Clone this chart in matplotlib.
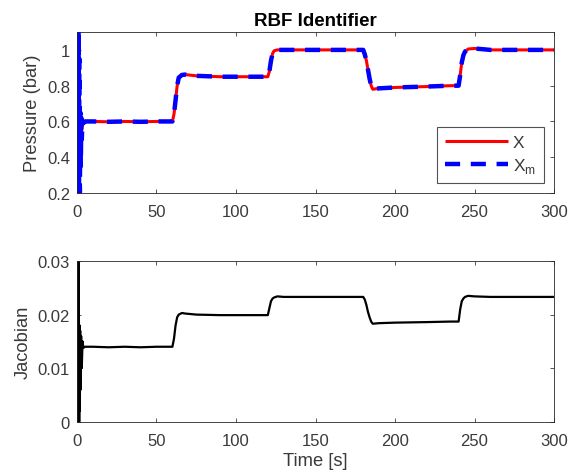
import matplotlib
matplotlib.use("Agg")
import matplotlib.pyplot as plt

plt.rcParams['font.family'] = ['Liberation Sans', 'DejaVu Sans']

# ---- data ----
t_x = [0, 0.5, 1, 1.5, 2, 2.5, 3, 3.5, 4, 5, 10, 20, 30, 40, 50, 55, 60,
       61, 62, 63, 64, 66, 68, 75, 90, 100, 110, 120,
       121, 122, 123, 124, 126, 130, 140, 160, 170, 180,
       181, 182, 183, 184, 185, 186, 190, 200, 220, 235, 240,
       241, 242, 243, 244, 246, 250, 260, 280, 300]
x_vals = [0.2, 0.3, 0.33, 0.38, 0.45, 0.5, 0.55, 0.58, 0.59, 0.6, 0.6, 0.598, 0.6, 0.598, 0.6, 0.6, 0.6,
          0.64, 0.72, 0.8, 0.845, 0.86, 0.862, 0.855, 0.85, 0.85, 0.85, 0.85,
          0.88, 0.94, 0.98, 0.995, 1.0, 1.0, 1.0, 1.0, 1.0, 1.0,
          0.975, 0.94, 0.89, 0.84, 0.80, 0.78, 0.785, 0.79, 0.795, 0.8, 0.8,
          0.86, 0.93, 0.97, 0.99, 1.005, 1.008, 1.0, 1.0, 1.0]

t_xm = [0, 0.15, 0.3, 0.45, 0.6, 0.75, 0.9, 1.05, 1.2, 1.5, 1.8, 2.1, 2.4, 2.7, 3, 3.5, 4, 5,
        10, 20, 30, 40, 50, 55, 60,
        61, 62, 63, 64, 66, 68, 75, 90, 100, 110, 120,
        121, 122, 123, 124, 126, 130, 140, 160, 170, 180,
        181, 182, 183, 184, 185, 186, 190, 200, 220, 235, 240,
        241, 242, 243, 244, 246, 250, 260, 280, 300]
xm_vals = [0.2, 1.1, 0.2, 1.1, 0.2, 1.1, 0.2, 1.1, 0.2, 0.95, 0.2, 0.65, 0.35, 0.62, 0.5, 0.6, 0.59, 0.6,
           0.6, 0.598, 0.6, 0.598, 0.6, 0.6, 0.6,
           0.64, 0.72, 0.8, 0.845, 0.86, 0.862, 0.855, 0.85, 0.85, 0.85, 0.85,
           0.88, 0.94, 0.98, 0.995, 1.0, 1.0, 1.0, 1.0, 1.0, 1.0,
           0.975, 0.94, 0.89, 0.84, 0.80, 0.78, 0.785, 0.79, 0.795, 0.8, 0.8,
           0.86, 0.93, 0.97, 0.99, 1.005, 1.008, 1.0, 1.0, 1.0]

t_j = [0, 0.1, 0.2, 0.3, 0.4, 0.5, 0.6, 0.7, 0.8, 0.9, 1.0, 1.2, 1.4, 1.6, 1.8, 2.0, 2.3, 2.6, 3.0, 3.5, 4, 5,
       10, 20, 30, 40, 50, 55, 60,
       61, 62, 63, 64, 66, 68, 75, 90, 100, 110, 120,
       121, 122, 123, 124, 126, 130, 140, 160, 170, 180,
       181, 182, 183, 184, 185, 186, 190, 200, 220, 235, 240,
       241, 242, 243, 244, 246, 250, 260, 280, 300]
j_vals = [0.0, 0.03, 0.0, 0.03, 0.0, 0.03, 0.0, 0.03, 0.0, 0.03, 0.0, 0.019, 0.0, 0.018, 0.002, 0.017, 0.006, 0.016, 0.01, 0.015, 0.0138, 0.014,
          0.014, 0.0139, 0.014, 0.0139, 0.014, 0.014, 0.014,
          0.0155, 0.018, 0.0195, 0.02, 0.0203, 0.0202, 0.02, 0.0199, 0.0199, 0.0199, 0.0199,
          0.0212, 0.0225, 0.023, 0.0232, 0.0234, 0.0233, 0.0233, 0.0233, 0.0233, 0.0233,
          0.0228, 0.0218, 0.0205, 0.0195, 0.0187, 0.0183, 0.0184, 0.0185, 0.0186, 0.0187, 0.0187,
          0.021, 0.0225, 0.023, 0.0233, 0.0235, 0.0234, 0.0233, 0.0233, 0.0233]

xticks = [0, 50, 100, 150, 200, 250, 300]
yticks_top = [0.2, 0.4, 0.6, 0.8, 1.0]
ytick_labels_top = ['0.2', '0.4', '0.6', '0.8', '1']
yticks_bot = [0, 0.01, 0.02, 0.03]
ytick_labels_bot = ['0', '0.01', '0.02', '0.03']

# ---- figure ----
fig = plt.figure(figsize=(5.75, 4.77), dpi=100)
ax1 = fig.add_axes([0.1339, 0.5933, 0.8296, 0.3375])
ax2 = fig.add_axes([0.1339, 0.1137, 0.8296, 0.3370])

grey = '#3a3a3a'
axc = '#262626'

ax1.plot(t_x, x_vals, color='red', lw=2.2, solid_capstyle='butt', label='X')
ax1.plot(t_xm, xm_vals, color='blue', lw=3.2, ls=(0, (3.4, 2.4)), label='X$_\\mathregular{m}$')
ax1.set_xlim(0, 300)
ax1.set_ylim(0.2, 1.1)
ax1.set_xticks(xticks)
ax1.set_yticks(yticks_top)
ax1.set_yticklabels(ytick_labels_top)
ax1.set_ylabel('Pressure (bar)', fontsize=13.2, color=grey, labelpad=4)
ax1.set_title('RBF Identifier', fontsize=13.5, fontweight='bold', pad=5)
leg = ax1.legend(loc='lower right', fontsize=12.5, frameon=True, fancybox=False,
                 edgecolor=axc, handlelength=3.6, borderpad=0.45, labelspacing=0.35,
                 handletextpad=0.3, borderaxespad=0.6)
leg.get_frame().set_linewidth(0.8)
for txt in leg.get_texts():
    txt.set_color(grey)

ax2.plot(t_j, j_vals, color='black', lw=1.6)
ax2.set_xlim(0, 300)
ax2.set_ylim(0, 0.03)
ax2.set_xticks(xticks)
ax2.set_yticks(yticks_bot)
ax2.set_yticklabels(ytick_labels_bot)
ax2.set_ylabel('Jacobian', fontsize=13.2, color=grey, labelpad=4)
ax2.set_xlabel('Time [s]', fontsize=13.2, color=grey, labelpad=3)

for ax in (ax1, ax2):
    ax.tick_params(direction='in', length=3, width=0.6, labelsize=12,
                   colors=grey, top=True, right=True)
    ax.tick_params(axis='x', pad=8)
    ax.tick_params(axis='y', pad=5)
    for s in ax.spines.values():
        s.set_color(axc)
        s.set_linewidth(0.6)

fig.savefig('out.png', dpi=100)
